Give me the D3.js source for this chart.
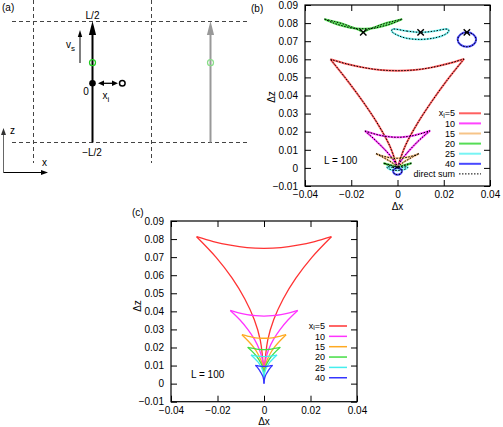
<!DOCTYPE html>
<html><head><meta charset="utf-8">
<script src="https://cdn.jsdelivr.net/npm/d3@7"></script>
<style>body{margin:0;background:#fff}svg{display:block}text{font-family:"Liberation Sans",Arial,Helvetica,sans-serif;font-size:10px;fill:#000}</style>
</head><body><svg id="fig" width="503" height="427"></svg>
<script>
// ---------- tick values / labels ----------
const xTicks = [-0.04, -0.02, 0, 0.02, 0.04];
const xTickLabels = ["\u22120.04", "\u22120.02", "0", "0.02", "0.04"];
const yTicks = [-0.01, 0, 0.01, 0.02, 0.03, 0.04, 0.05, 0.06, 0.07, 0.08, 0.09];
const yTickLabels = ["\u22120.01", "0", "0.01", "0.02", "0.03", "0.04", "0.05", "0.06", "0.07", "0.08", "0.09"];
const xiValues = ["5", "10", "15", "20", "25", "40"];
const bColors = ["#ff6060", "#ff44ff", "#f6c488", "#55dd55", "#77f4f4", "#4848ff"];
const cColors = ["#ff3333", "#ff33ff", "#ffaa22", "#44dd44", "#44eeee", "#3535ff"];

// ---------- panel (b) curves: [top arc, right side, left side] ----------
const bX5 = [
  [[-0.0290,0.0600],[-0.0218,0.0574],[-0.0145,0.0554],[-0.0073,0.0541],[0,0.0537],[0.0072,0.0541],[0.0144,0.0554],[0.0216,0.0575],[0.0288,0.0602]],
  [[0.0288,0.0602],[0.0213,0.0482],[0.0145,0.0361],[0.0084,0.0241],[0.0033,0.0120],[0,0]],
  [[0,0],[-0.0033,0.0120],[-0.0084,0.0240],[-0.0146,0.0360],[-0.0215,0.0480],[-0.0290,0.0600]]
];
const bX10 = [
  [[-0.0141,0.0204],[-0.0106,0.0190],[-0.0071,0.0179],[-0.0035,0.0172],[0,0.0169],[0.0035,0.0172],[0.0071,0.0179],[0.0106,0.0191],[0.0141,0.0206]],
  [[0.0141,0.0206],[0.0104,0.0165],[0.0071,0.0124],[0.0041,0.0082],[0.0016,0.0041],[0,0]],
  [[0,0],[-0.0016,0.0041],[-0.0041,0.0082],[-0.0071,0.0122],[-0.0104,0.0163],[-0.0141,0.0204]]
];
const bX15 = [
  [[-0.0093,0.0079],[-0.0070,0.0068],[-0.0047,0.0060],[-0.0023,0.0055],[0,0.0053],[0.0023,0.0055],[0.0047,0.0060],[0.0070,0.0068],[0.0093,0.0079]],
  [[0.0093,0.0079],[0.0069,0.0063],[0.0047,0.0047],[0.0027,0.0032],[0.0011,0.0016],[0,0]],
  [[0,0],[-0.0011,0.0016],[-0.0027,0.0032],[-0.0047,0.0047],[-0.0069,0.0063],[-0.0093,0.0079]]
];
const bX20 = [
  [[-0.0060,0.0026],[-0.0045,0.0018],[-0.0030,0.0012],[-0.0015,0.0008],[0,0.0007],[0.0015,0.0008],[0.0030,0.0012],[0.0045,0.0018],[0.0060,0.0026]],
  [[0.0060,0.0026],[0.0044,0.0021],[0.0030,0.0016],[0.0017,0.0010],[0.0007,0.0005],[0,0]],
  [[0,0],[-0.0007,0.0005],[-0.0017,0.0010],[-0.0030,0.0016],[-0.0044,0.0021],[-0.0060,0.0026]]
];
const bX25 = [[-0.0044,0.0006],[-0.0021,0.00025],[0,0],[0.0021,0.00025],[0.0042,0.0006],[0.0044,0.0003],[0.0038,-0.0004],[0.0021,-0.0011],[0,-0.0014],[-0.0021,-0.0012],[-0.0036,-0.0006],[-0.0045,0.0002]];
const bX40 = [[0,0],[0.00134,-0.00056],[0.0019,-0.0019],[0.00134,-0.00324],[0,-0.0038],[-0.00134,-0.00324],[-0.0019,-0.0019],[-0.00134,-0.00056]];
// magnified copies at the top of panel (b)
const bX20Inset = [
  [[-0.0316,0.0822],[-0.0274,0.0799],[-0.0232,0.0783],[-0.0190,0.0771],[-0.0148,0.0769],[-0.0106,0.0771],[-0.0064,0.0783],[-0.0022,0.0799],[0.0020,0.0822]],
  [[0.0020,0.0822],[-0.0025,0.0808],[-0.0064,0.0794],[-0.0100,0.0777],[-0.0128,0.0763],[-0.0148,0.0749]],
  [[-0.0148,0.0749],[-0.0168,0.0763],[-0.0196,0.0777],[-0.0232,0.0794],[-0.0271,0.0808],[-0.0316,0.0822]]
];
const bX25Inset = [[-0.0022,0.0766],[0.0040,0.0756],[0.0100,0.0749],[0.0160,0.0756],[0.0217,0.0766],[0.0222,0.0755],[0.0205,0.0737],[0.0160,0.0718],[0.0100,0.0710],[0.0040,0.0716],[0.0000,0.0733],[-0.0025,0.0755]];
const bX40Inset = [[0.0300,0.0749],[0.0328,0.0737],[0.0340,0.0709],[0.0328,0.0681],[0.0300,0.0669],[0.0272,0.0681],[0.0260,0.0709],[0.0272,0.0737]];
const bMarks = [[-0.0148,0.0749],[0.0100,0.0749],[0.0300,0.0749]];

// ---------- panel (c) curves ----------
const cX5 = [
  [[-0.0290,0.0813],[-0.0218,0.0786],[-0.0145,0.0766],[-0.0073,0.0753],[0,0.0749],[0.0073,0.0753],[0.0145,0.0766],[0.0218,0.0786],[0.0290,0.0813]],
  [[0.0290,0.0813],[0.0206,0.0699],[0.0137,0.0584],[0.0083,0.0470],[0.0042,0.0355],[0.0016,0.0241],[0,0.0050]],
  [[0,0.0050],[-0.0016,0.0241],[-0.0042,0.0355],[-0.0083,0.0470],[-0.0137,0.0584],[-0.0206,0.0699],[-0.0290,0.0813]]
];
const cX10 = [
  [[-0.0145,0.0405],[-0.0109,0.0392],[-0.0073,0.0382],[-0.0036,0.0376],[0,0.0374],[0.0036,0.0376],[0.0073,0.0382],[0.0109,0.0392],[0.0145,0.0405]],
  [[0.0145,0.0405],[0.0103,0.0352],[0.0069,0.0299],[0.0041,0.0245],[0.0021,0.0192],[0.0008,0.0139],[0,0.0050]],
  [[0,0.0050],[-0.0008,0.0139],[-0.0021,0.0192],[-0.0041,0.0245],[-0.0069,0.0299],[-0.0103,0.0352],[-0.0145,0.0405]]
];
const cX15 = [
  [[-0.0095,0.0271],[-0.0071,0.0263],[-0.0048,0.0256],[-0.0024,0.0252],[0,0.0251],[0.0024,0.0252],[0.0048,0.0256],[0.0071,0.0263],[0.0095,0.0271]],
  [[0.0095,0.0271],[0.0068,0.0236],[0.0045,0.0202],[0.0027,0.0167],[0.0014,0.0132],[0.0005,0.0098],[0,0.0040]],
  [[0,0.0040],[-0.0005,0.0098],[-0.0014,0.0132],[-0.0027,0.0167],[-0.0045,0.0202],[-0.0068,0.0236],[-0.0095,0.0271]]
];
const cX20 = [
  [[-0.0070,0.0201],[-0.0053,0.0196],[-0.0035,0.0192],[-0.0018,0.0189],[0,0.0188],[0.0018,0.0189],[0.0035,0.0192],[0.0053,0.0196],[0.0070,0.0201]],
  [[0.0070,0.0201],[0.0050,0.0177],[0.0033,0.0153],[0.0020,0.0129],[0.0010,0.0104],[0.0004,0.0080],[0,0.0040]],
  [[0,0.0040],[-0.0004,0.0080],[-0.0010,0.0104],[-0.0020,0.0129],[-0.0033,0.0153],[-0.0050,0.0177],[-0.0070,0.0201]]
];
const cX25 = [
  [[-0.0056,0.0158],[-0.0042,0.0155],[-0.0028,0.0152],[-0.0014,0.0151],[0,0.0150],[0.0014,0.0151],[0.0028,0.0152],[0.0042,0.0155],[0.0056,0.0158]],
  [[0.0056,0.0158],[0.0040,0.0139],[0.0026,0.0120],[0.0016,0.0100],[0.0008,0.0081],[0.0003,0.0062],[0,0.0030]],
  [[0,0.0030],[-0.0003,0.0062],[-0.0008,0.0081],[-0.0016,0.0100],[-0.0026,0.0120],[-0.0040,0.0139],[-0.0056,0.0158]]
];
const cX40 = [
  [[-0.0037,0.0101],[-0.0028,0.0099],[-0.0019,0.0097],[-0.0009,0.0096],[0,0.0096],[0.0009,0.0096],[0.0019,0.0097],[0.0028,0.0099],[0.0037,0.0101]],
  [[0.0037,0.0101],[0.0026,0.0086],[0.0018,0.0071],[0.0011,0.0056],[0.0005,0.0040],[0.0002,0.0025],[0,0]],
  [[0,0],[-0.0002,0.0025],[-0.0005,0.0040],[-0.0011,0.0056],[-0.0018,0.0071],[-0.0026,0.0086],[-0.0037,0.0101]]
];

const svg = d3.select("#fig");
svg.append("rect").attr("width",503).attr("height",427).attr("fill","#fff");

// ================= panel (a) diagram =================
const A = svg.append("g");
const dash = (x1,y1,x2,y2)=>A.append("line").attr("x1",x1).attr("y1",y1).attr("x2",x2).attr("y2",y2)
  .attr("stroke","#444").attr("stroke-width",1).attr("stroke-dasharray","4,3");
dash(33.5,0,33.5,163); dash(151.5,0,151.5,163);
dash(12,21.5,248,21.5); dash(12,142.5,248,142.5);
function vArrow(x, yb, yt, col, w, hl, hw){
  A.append("line").attr("x1",x).attr("y1",yb).attr("x2",x).attr("y2",yt+hl-1).attr("stroke",col).attr("stroke-width",w);
  A.append("path").attr("d",`M${x},${yt}L${x-hw},${yt+hl}L${x+hw},${yt+hl}Z`).attr("fill",col);
}
vArrow(92.5,142.5,21,"#000",2,14,3.6);
vArrow(210.5,142.5,21,"#999",2,14,3.6);
vArrow(80,63,30,"#000",1,7,2.2);
A.append("circle").attr("cx",92.5).attr("cy",62.7).attr("r",3).attr("fill","none").attr("stroke","#22cc22").attr("stroke-width",1.2);
A.append("circle").attr("cx",210.5).attr("cy",62.7).attr("r",3).attr("fill","none").attr("stroke","#88dd88").attr("stroke-width",1.2);
A.append("circle").attr("cx",92.5).attr("cy",83.3).attr("r",3.3).attr("fill","#000");
A.append("line").attr("x1",102).attr("y1",83.3).attr("x2",114).attr("y2",83.3).attr("stroke","#000").attr("stroke-width",1.3);
A.append("path").attr("d","M98,83.3L104,80.6L104,86Z").attr("fill","#000");
A.append("path").attr("d","M118,83.3L112,80.6L112,86Z").attr("fill","#000");
A.append("circle").attr("cx",122.3).attr("cy",83.3).attr("r",2.8).attr("fill","none").attr("stroke","#000").attr("stroke-width",1.5);
// coordinate frame
A.append("line").attr("x1",3.5).attr("y1",172.5).attr("x2",3.5).attr("y2",134).attr("stroke","#666").attr("stroke-width",1);
A.append("path").attr("d","M3.5,128L1,135L6,135Z").attr("fill","#333");
A.append("line").attr("x1",3.5).attr("y1",172.5).attr("x2",42).attr("y2",172.5).attr("stroke","#000").attr("stroke-width",1);
A.append("path").attr("d","M48,172.5L41,170L41,175Z").attr("fill","#000");
const txt = (g,x,y,s,anchor)=>g.append("text").attr("x",x).attr("y",y).attr("text-anchor",anchor||"start").text(s);
txt(A,2,11,"(a)");
txt(A,92.5,19,"L/2","middle");
txt(A,92,156,"\u2212L/2","middle");
txt(A,86,95,"0","middle");
txt(A,10,134,"z");
txt(A,42,166,"x");
{ const t = A.append("text").attr("x",66).attr("y",48); t.append("tspan").text("v");
  t.append("tspan").attr("dy",3).style("font-size","8px").text("s"); }
{ const t = A.append("text").attr("x",102.5).attr("y",99); t.append("tspan").text("x");
  t.append("tspan").attr("dy",3).style("font-size","8px").text("i"); }

// ================= chart panels =================
function drawAxes(g, x, y){
  const [xl, xr] = x.range(); const [yB, yT] = y.range();
  const fx = d => xTickLabels[xTicks.indexOf(d)];
  const fy = d => yTickLabels[yTicks.indexOf(d)];
  const ax = [
    g.append("g").attr("transform",`translate(0,${yB})`).call(d3.axisBottom(x).tickValues(xTicks).tickFormat(fx).tickSize(-6).tickPadding(5)),
    g.append("g").attr("transform",`translate(0,${yT})`).call(d3.axisTop(x).tickValues(xTicks).tickFormat("").tickSize(-6)),
    g.append("g").attr("transform",`translate(${xl},0)`).call(d3.axisLeft(y).tickValues(yTicks).tickFormat(fy).tickSize(-6).tickPadding(7)),
    g.append("g").attr("transform",`translate(${xr},0)`).call(d3.axisRight(y).tickValues(yTicks).tickFormat("").tickSize(-6))
  ];
  ax.forEach(a=>{ a.select(".domain").remove(); a.selectAll("line").attr("stroke","#000").attr("stroke-width",1);
    a.selectAll("text").style("font-family",'"Liberation Sans",Arial,sans-serif').style("font-size","10px").attr("fill","#000"); });
  g.append("rect").attr("x",xl).attr("y",yT).attr("width",xr-xl).attr("height",yB-yT)
    .attr("fill","none").attr("stroke","#000").attr("stroke-width",1.2);
}
function drawShape(g, x, y, segs, closed, stroke, width, dashArr){
  const line = d3.line().x(d=>x(d[0])).y(d=>y(d[1]))
    .curve(closed ? d3.curveCatmullRomClosed.alpha(0.5) : d3.curveCatmullRom.alpha(0.5));
  (closed ? [segs] : segs).forEach(s=>{
    const p = g.append("path").attr("d",line(s)).attr("fill","none").attr("stroke",stroke)
      .attr("stroke-width",width).attr("stroke-linejoin","round");
    if (dashArr) p.attr("stroke-dasharray",dashArr);
  });
}
function legendEntry(g, xEnd, x1, x2, yy, label, sub, col, w, dashArr){
  const fs = "9px";
  if (sub){
    const t3 = g.append("text").attr("x",xEnd).attr("y",yy).attr("dy","0.35em").attr("text-anchor","end").style("font-size",fs).text("=" + label);
    const w3 = t3.node().getComputedTextLength();
    const ti = g.append("text").attr("x",xEnd-w3).attr("y",yy+2).attr("dy","0.35em").attr("text-anchor","end").style("font-size","7px").text("i");
    const wi = ti.node().getComputedTextLength();
    g.append("text").attr("x",xEnd-w3-wi).attr("y",yy).attr("dy","0.35em").attr("text-anchor","end").style("font-size",fs).text("x");
  } else {
    g.append("text").attr("x",xEnd).attr("y",yy).attr("dy","0.35em").attr("text-anchor","end").style("font-size",fs).text(label);
  }
  const l = g.append("line").attr("x1",x1).attr("x2",x2).attr("y1",yy).attr("y2",yy).attr("stroke",col).attr("stroke-width",w);
  if (dashArr) l.attr("stroke-dasharray",dashArr);
}

// ---- panel (b)
const B = svg.append("g");
const xb = d3.scaleLinear().domain([-0.04,0.04]).range([305,490]);
const yb = d3.scaleLinear().domain([-0.01,0.09]).range([186,5]);
const bShapes = [
  [bX5,false,0],[bX10,false,1],[bX15,false,2],[bX20,false,3],[bX25,true,4],[bX40,true,5],
  [bX20Inset,false,3],[bX25Inset,true,4],[bX40Inset,true,5]
];
bShapes.forEach(([s,c,i])=>drawShape(B,xb,yb,s,c,bColors[i],2));
bShapes.forEach(([s,c,i])=>drawShape(B,xb,yb,s,c,"#000",1,"1.5,1.5"));
bMarks.forEach(m=>{
  const cx = xb(m[0]), cy = yb(m[1]), r = 3.2;
  B.append("path").attr("d",`M${cx-r},${cy-r}L${cx+r},${cy+r}M${cx-r},${cy+r}L${cx+r},${cy-r}`)
    .attr("stroke","#000").attr("stroke-width",1.4);
});
drawAxes(B,xb,yb);
xiValues.forEach((v,i)=>legendEntry(B,455,459,481,113.3+i*10.1,v,i===0,bColors[i],2));
legendEntry(B,455,459,481,113.3+6*10.1,"direct sum",false,"#000",1,"1.5,1.5");
txt(B,324,163.7,"L = 100");
txt(B,251,12,"(b)");
txt(B,397.5,209.8,"\u0394x","middle");
B.append("text").attr("transform","translate(271,97) rotate(-90)").attr("dy","0.35em").attr("text-anchor","middle").text("\u0394z");

// ---- panel (c)
const C = svg.append("g");
const xc = d3.scaleLinear().domain([-0.04,0.04]).range([171,357]);
const yc = d3.scaleLinear().domain([-0.01,0.09]).range([401.7,221]);
[cX5,cX10,cX15,cX20,cX25,cX40].forEach((s,i)=>drawShape(C,xc,yc,s,false,cColors[i],1.3));
drawAxes(C,xc,yc);
xiValues.forEach((v,i)=>legendEntry(C,325,329,347,326+i*10.35,v,i===0,cColors[i],1.5));
txt(C,191,378,"L = 100");
txt(C,132,216,"(c)");
txt(C,264,425,"\u0394x","middle");
C.append("text").attr("transform","translate(137,306) rotate(-90)").attr("dy","0.35em").attr("text-anchor","middle").text("\u0394z");
</script></body></html>
